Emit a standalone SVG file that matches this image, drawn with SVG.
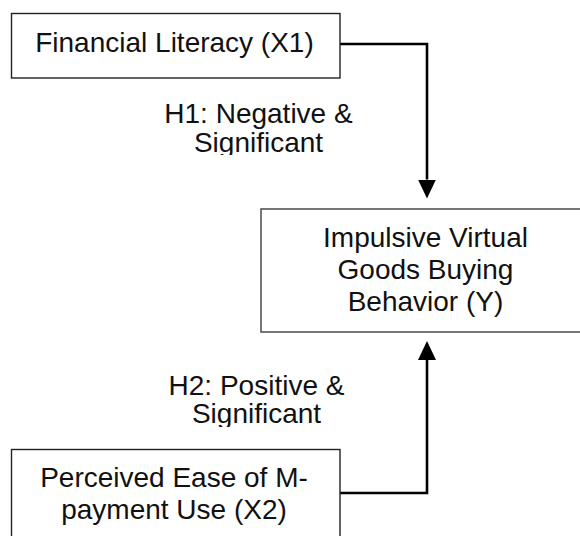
<svg xmlns="http://www.w3.org/2000/svg" width="580" height="536" viewBox="0 0 580 536">
<style>
  .box { fill: #ffffff; stroke: #222222; stroke-width: 1.4; }
  .boxy { fill: #ffffff; stroke: #555555; stroke-width: 1.6; }
  .t { font-family: "Liberation Sans", Arial, sans-serif; font-size: 28px; fill: #111111; text-anchor: middle; }
  .conn { fill: none; stroke: #000000; stroke-width: 2.6; }
</style>
<defs>
  <marker id="arrow" viewBox="0 0 19 18" refX="0" refY="9" markerWidth="19" markerHeight="18" markerUnits="userSpaceOnUse" orient="auto">
    <path d="M0,0 L19,9 L0,18 z" fill="#000000"/>
  </marker>
  <clipPath id="clipH1"><rect x="0" y="80" width="580" height="75"/></clipPath>
  <clipPath id="clipH2"><rect x="0" y="350" width="580" height="77"/></clipPath>
</defs>
<rect width="580" height="536" fill="#ffffff"/>
<g id="connectors">
  <path class="conn" d="M340,44 H427 V179.5" marker-end="url(#arrow)"/>
  <path class="conn" d="M340,493 H427 V360" marker-end="url(#arrow)"/>
  <g id="label-h1" clip-path="url(#clipH1)">
    <text class="t" x="258.5" y="123.3">H1: Negative &amp;</text>
    <text class="t" x="258.5" y="151.7">Significant</text>
  </g>
  <g id="label-h2" clip-path="url(#clipH2)">
    <text class="t" x="256.5" y="395">H2: Positive &amp;</text>
    <text class="t" x="256.5" y="423.3">Significant</text>
  </g>
</g>
<g id="node-x1">
  <rect class="box" x="11.5" y="13.5" width="328.5" height="64.5"/>
  <text class="t" x="174.5" y="52.3">Financial Literacy (X1)</text>
</g>
<g id="node-y">
  <rect class="boxy" x="261" y="209" width="330" height="123"/>
  <text class="t" x="425.5" y="247.3">Impulsive Virtual</text>
  <text class="t" x="425.5" y="279">Goods Buying</text>
  <text class="t" x="425.5" y="310.7">Behavior (Y)</text>
</g>
<g id="node-x2">
  <rect class="box" x="11.5" y="449.5" width="328.5" height="100"/>
  <text class="t" x="174" y="487.3">Perceived Ease of M-</text>
  <text class="t" x="174" y="519">payment Use (X2)</text>
</g>
</svg>
